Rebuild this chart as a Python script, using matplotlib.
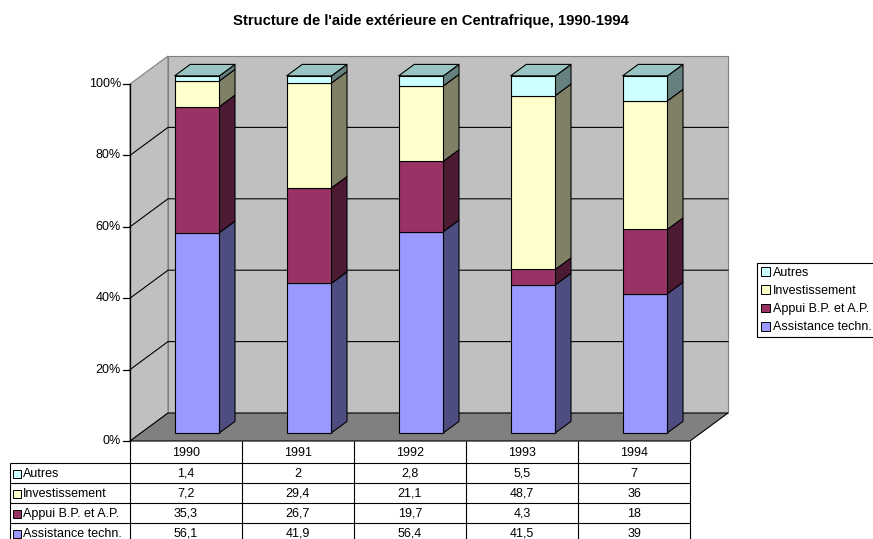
import matplotlib
matplotlib.use('Agg')
import matplotlib.pyplot as plt
from matplotlib.patches import Polygon, Rectangle, Patch

plt.rcParams['font.family'] = ['Liberation Sans', 'DejaVu Sans']

# data
years = ['1990', '1991', '1992', '1993', '1994']
assistance = [56.1, 41.9, 56.4, 41.5, 39]
appui = [35.3, 26.7, 19.7, 4.3, 18]
invest = [7.2, 29.4, 21.1, 48.7, 36]
autres = [1.4, 2, 2.8, 5.5, 7]
labels = ['Assistance techn.', 'Appui B.P. et A.P.', 'Investissement', 'Autres']
series = [assistance, appui, invest, autres]
front_colors = ['#9999ff', '#993366', '#ffffcc', '#ccffff']
side_colors = ['#4d4d80', '#4d1a33', '#808066', '#668080']
top_colors = ['#7373bf', '#73264d', '#bfbf99', '#99c4c4']

W, H = 873, 539
fig = plt.figure(figsize=(W / 100, H / 100), dpi=100)

# main 3D-look plot: x in categories, y in percent
ax = fig.add_axes([130 / W, (H - 441) / H, 560 / W, 357 / H])
n = len(years)
ax.set_xlim(0, n)
ax.set_ylim(0, 100)
ax.axis('off')

DX = 38 / 112      # box depth, category units
DY = 28 / 3.57     # box depth, percent units
F0, F1 = 0.29, 0.70  # bar depth range as fraction of box depth
BW = 0.4


def poly(pts, fc, ec='black', lw=0.8, z=1):
    ax.add_patch(Polygon(pts, closed=True, fc=fc, ec=ec, lw=lw, zorder=z,
                         clip_on=False, joinstyle='miter'))


# walls and floor
poly([(0, 0), (DX, DY), (DX, 100 + DY), (0, 100)], '#c0c0c0', '#808080')
poly([(DX, DY), (n + DX, DY), (n + DX, 100 + DY), (DX, 100 + DY)],
     '#c0c0c0', '#808080')
poly([(0, 0), (n, 0), (n + DX, DY), (DX, DY)], '#808080', 'black')

for v in range(20, 100, 20):
    ax.plot([0, DX, n + DX], [v, v + DY, v + DY], color='black', lw=0.8,
            zorder=2, clip_on=False)

# value axis
ax.plot([0, 0], [0, 100], color='black', lw=0.9, zorder=3, clip_on=False)
for v in range(0, 101, 20):
    ax.plot([-7 / 112, 0], [v, v], color='black', lw=0.9, zorder=3,
            clip_on=False)
    ax.text(-9 / 112, v, '{}%'.format(v), ha='right', va='center',
            fontsize=9, clip_on=False)

# bars
for i in range(n):
    total = sum(s[i] for s in series)
    xl = i + 0.5 - BW / 2
    xr = i + 0.5 + BW / 2
    bottom = 0
    for k, s in enumerate(series):
        top = bottom + 100 * s[i] / total
        ax0, ay0 = F0 * DX, F0 * DY
        ax1, ay1 = F1 * DX, F1 * DY
        poly([(xr + ax0, bottom + ay0), (xr + ax1, bottom + ay1),
              (xr + ax1, top + ay1), (xr + ax0, top + ay0)],
             side_colors[k], z=4)
        poly([(xl + ax0, bottom + ay0), (xr + ax0, bottom + ay0),
              (xr + ax0, top + ay0), (xl + ax0, top + ay0)],
             front_colors[k], z=5)
        if k == len(series) - 1:
            poly([(xl + ax0, top + ay0), (xr + ax0, top + ay0),
                  (xr + ax1, top + ay1), (xl + ax1, top + ay1)],
                 top_colors[k], z=5)
        bottom = top

fig.text(431 / W, 1 - 21 / H,
         "Structure de l'aide extérieure en Centrafrique, 1990-1994",
         ha='center', va='center', fontsize=10.7, weight='bold')

# data table
tax = fig.add_axes([10 / W, (H - 543) / H, 680 / W, 102 / H])
x_left = -120 / 112
tax.set_xlim(x_left, n)
tax.set_ylim(5.1, 0)
tax.axis('off')

tax.vlines(range(0, n + 1), 0, 5.1, color='black', lw=0.8, clip_on=False)
tax.vlines(x_left, 1.1, 5.1, color='black', lw=0.8, clip_on=False)
tax.hlines([1.1, 2.1, 3.1, 4.1, 5.1], x_left, n, color='black', lw=0.8,
           clip_on=False)

for i, yr in enumerate(years):
    tax.text(i + 0.5, 0.6, yr, ha='center', va='center', fontsize=9)

rows = list(range(len(series)))[::-1]
for r, k in enumerate(rows):
    yc = 1.1 + r + 0.55
    tax.add_patch(Rectangle((-117 / 112, yc - 0.19), 8 / 112, 0.38,
                            fc=front_colors[k], ec='black', lw=0.7,
                            clip_on=False))
    tax.text(-107 / 112, yc, labels[k], ha='left', va='center', fontsize=9)
    for i in range(n):
        txt = '{:g}'.format(series[k][i]).replace('.', ',')
        tax.text(i + 0.5, yc, txt, ha='center', va='center', fontsize=9)

# legend
handles = [Patch(fc=front_colors[k], ec='black', lw=0.7, label=labels[k])
           for k in rows]
leg = fig.legend(handles=handles, loc='upper left',
                 bbox_to_anchor=(757 / W, 1 - 263 / H), fontsize=9,
                 frameon=True, fancybox=False, edgecolor='black',
                 framealpha=1, handlelength=0.7, handleheight=0.7,
                 handletextpad=0.3, labelspacing=0.5, borderpad=0.3,
                 borderaxespad=0)
leg.get_frame().set_linewidth(0.8)

fig.savefig('out.png', dpi=100)
